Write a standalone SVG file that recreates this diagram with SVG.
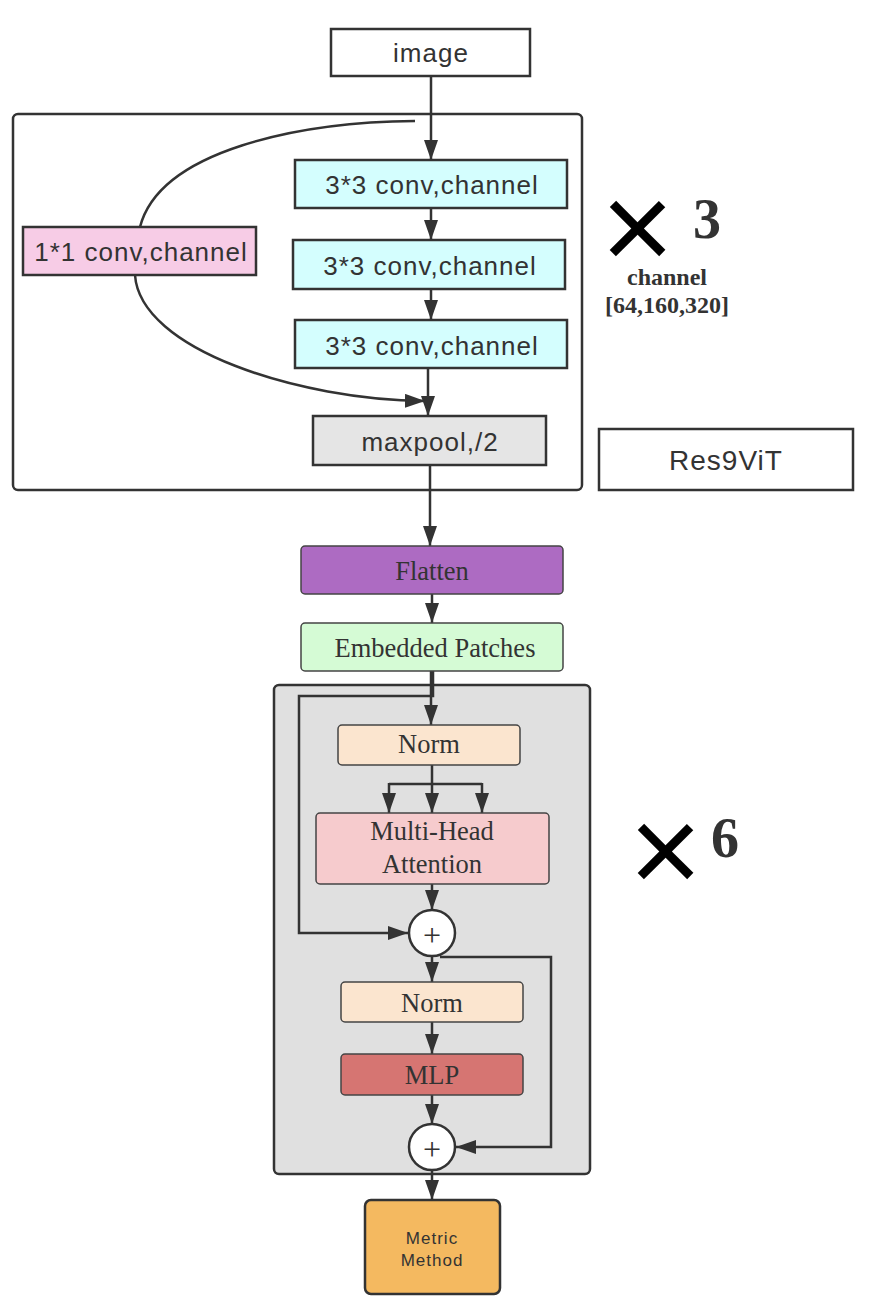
<svg xmlns="http://www.w3.org/2000/svg" width="876" height="1316" viewBox="0 0 876 1316">
<style>
.sans{font-family:"Liberation Sans",Arial,sans-serif;fill:#333;text-anchor:middle;letter-spacing:1px}
.serif{font-family:"Liberation Serif","Times New Roman",serif;fill:#333;text-anchor:middle}
.box{stroke:#333;stroke-width:2.5}
.rbox{stroke:#444;stroke-width:1.5}
.edge{fill:none;stroke:#333;stroke-width:2.5}
</style>
<defs>
<marker id="ah" markerUnits="userSpaceOnUse" markerWidth="20" markerHeight="14" refX="20" refY="7" orient="auto">
<path d="M0,0 L20,7 L0,14 z" fill="#333"/>
</marker>
</defs>
<rect width="876" height="1316" fill="#fff"/>

<g id="res-block">
<rect x="13" y="114" width="569" height="376" rx="5" fill="#fff" stroke="#333" stroke-width="2.5"/>
</g>
<g id="vit-block">
<rect x="274" y="685" width="316" height="489" rx="5" fill="#e0e0e0" stroke="#333" stroke-width="2.5"/>
</g>

<g id="connectors">
<path class="edge" d="M431,76 V160" marker-end="url(#ah)"/>
<path class="edge" d="M431,208 V240" marker-end="url(#ah)"/>
<path class="edge" d="M431,289 V320" marker-end="url(#ah)"/>
<path class="edge" d="M428,368 V416" marker-end="url(#ah)"/>
<path class="edge" d="M415,121 C300,122 160,150 140,227"/>
<path class="edge" d="M135,275 C140,350 300,400 425,401" marker-end="url(#ah)"/>
<path class="edge" d="M430,465 V546" marker-end="url(#ah)"/>
<path class="edge" d="M432,594 V623" marker-end="url(#ah)"/>
<path class="edge" d="M431,671 V725" marker-end="url(#ah)"/>
<path class="edge" d="M433,671 V696 H299 V933 H408" marker-end="url(#ah)"/>
<path class="edge" d="M432,765 V784 M389,784 H482"/>
<path class="edge" d="M389,783 V813" marker-end="url(#ah)"/>
<path class="edge" d="M432,784 V813" marker-end="url(#ah)"/>
<path class="edge" d="M482,783 V813" marker-end="url(#ah)"/>
<path class="edge" d="M432,884 V910" marker-end="url(#ah)"/>
<path class="edge" d="M432,956 V982" marker-end="url(#ah)"/>
<path class="edge" d="M440,957 H551 V1147 H456" marker-end="url(#ah)"/>
<path class="edge" d="M432,1022 V1054" marker-end="url(#ah)"/>
<path class="edge" d="M432,1095 V1124" marker-end="url(#ah)"/>
<path class="edge" d="M432,1170 V1200" marker-end="url(#ah)"/>
</g>

<g id="image">
<rect class="box" x="331" y="29" width="199" height="47" fill="#fff" stroke-width="2"/>
<text class="sans" x="431" y="62" font-size="26">image</text>
</g>
<g id="conv1">
<rect class="box" x="295" y="160" width="272" height="48" fill="#d4fefe"/>
<text class="sans" x="432" y="194" font-size="26">3*3 conv,channel</text>
</g>
<g id="conv2">
<rect class="box" x="293" y="240" width="272" height="49" fill="#d4fefe" stroke-width="3"/>
<text class="sans" x="430" y="275" font-size="26">3*3 conv,channel</text>
</g>
<g id="conv3">
<rect class="box" x="295" y="320" width="272" height="48" fill="#d4fefe"/>
<text class="sans" x="432" y="355" font-size="26">3*3 conv,channel</text>
</g>
<g id="conv1x1">
<rect class="box" x="23" y="227" width="233" height="48" fill="#f7cce6"/>
<text class="sans" x="141" y="261" font-size="26">1*1 conv,channel</text>
</g>
<g id="maxpool">
<rect class="box" x="313" y="416" width="233" height="49" fill="#e5e5e5"/>
<text class="sans" x="430" y="451" font-size="26">maxpool,/2</text>
</g>
<g id="res9vit">
<rect class="box" x="599" y="429" width="254" height="61" fill="#fff"/>
<text class="sans" x="726" y="470" font-size="28" letter-spacing="0">Res9ViT</text>
</g>
<g id="repeat3">
<text class="sans" x="638" y="270" font-size="125" letter-spacing="0" style="fill:#000">×</text>
<text class="serif" x="707" y="238" font-size="56" font-weight="bold">3</text>
<text class="serif" x="667" y="285" font-size="24" font-weight="bold">channel</text>
<text class="serif" x="667" y="313" font-size="24" font-weight="bold">[64,160,320]</text>
</g>
<g id="flatten">
<rect class="rbox" x="301" y="546" width="262" height="48" rx="4" fill="#ad6bc2"/>
<text class="serif" x="432" y="580" font-size="26.5">Flatten</text>
</g>
<g id="embedded">
<rect class="rbox" x="301" y="623" width="262" height="48" rx="4" fill="#d5fbd5"/>
<text class="serif" x="435" y="657" font-size="26.5">Embedded Patches</text>
</g>
<g id="norm1">
<rect class="rbox" x="338" y="725" width="182" height="40" rx="4" fill="#fbe5cf"/>
<text class="serif" x="429" y="753" font-size="26.5">Norm</text>
</g>
<g id="mha">
<rect class="rbox" x="316" y="813" width="233" height="71" rx="4" fill="#f6cbcd"/>
<text class="serif" x="432" y="840" font-size="26.5">Multi-Head</text>
<text class="serif" x="432" y="873" font-size="26.5">Attention</text>
</g>
<g id="add1">
<circle cx="432" cy="933" r="23" fill="#fff" stroke="#333" stroke-width="2.5"/>
<text class="serif" x="432" y="946" font-size="32">+</text>
</g>
<g id="norm2">
<rect class="rbox" x="341" y="982" width="182" height="40" rx="4" fill="#fbe5cf"/>
<text class="serif" x="432" y="1012" font-size="26.5">Norm</text>
</g>
<g id="mlp">
<rect class="rbox" x="341" y="1054" width="182" height="41" rx="4" fill="#d67572"/>
<text class="serif" x="432" y="1084" font-size="26.5">MLP</text>
</g>
<g id="add2">
<circle cx="432" cy="1147" r="23" fill="#fff" stroke="#333" stroke-width="2.5"/>
<text class="serif" x="432" y="1160" font-size="32">+</text>
</g>
<g id="repeat6">
<text class="sans" x="666" y="893" font-size="125" letter-spacing="0" style="fill:#000">×</text>
<text class="serif" x="725" y="857" font-size="56" font-weight="bold">6</text>
</g>
<g id="metric">
<rect x="365" y="1200" width="135" height="94" rx="6" fill="#f4b960" stroke="#333" stroke-width="2.5"/>
<text class="sans" x="432" y="1244" font-size="17" letter-spacing="0.5">Metric</text>
<text class="sans" x="432" y="1266" font-size="17" letter-spacing="0.5">Method</text>
</g>
</svg>
